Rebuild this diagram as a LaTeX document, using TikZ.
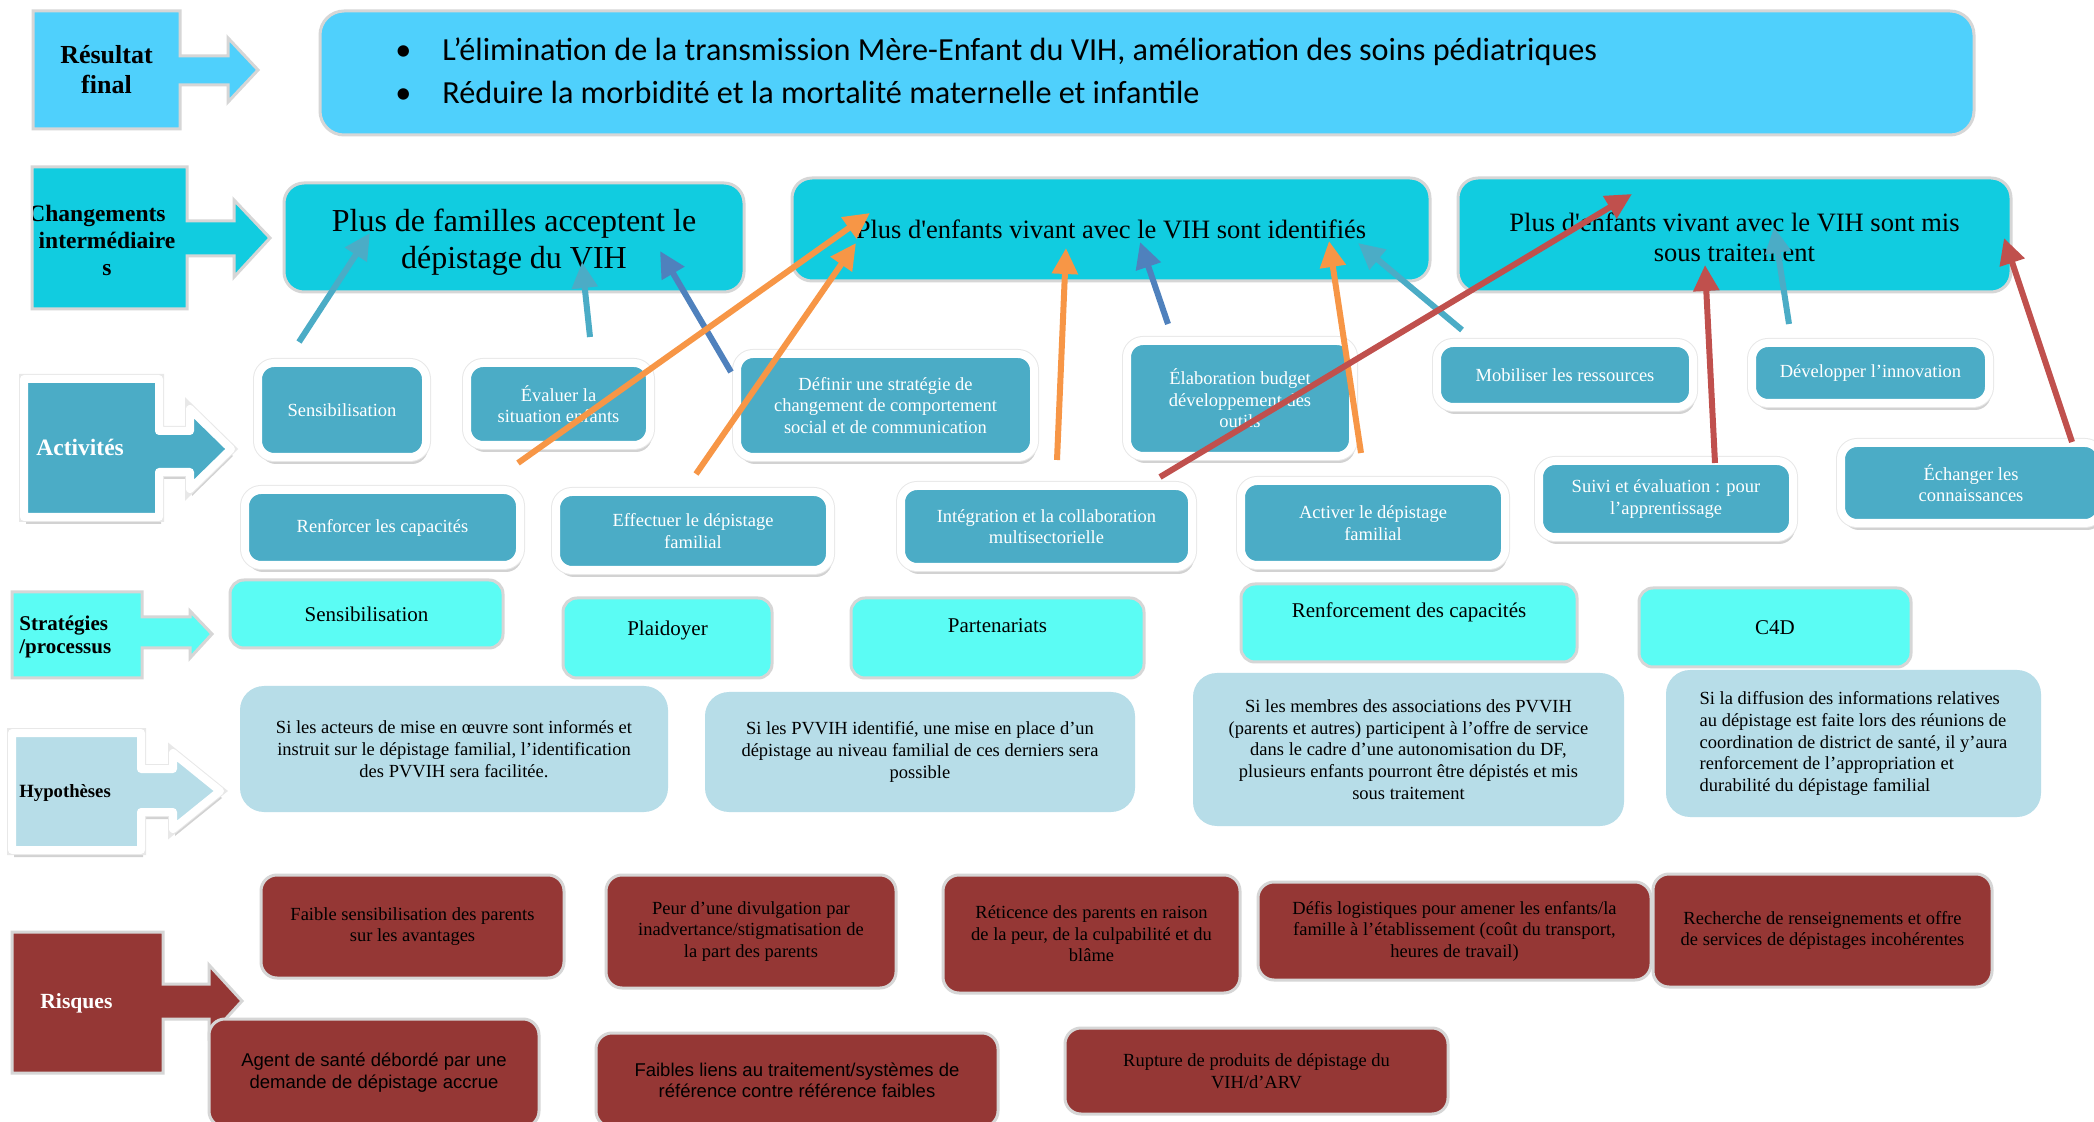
\documentclass[tikz,border=0pt]{standalone}
\usepackage{fontspec}
\setmainfont{Liberation Serif}
\newfontfamily\tnr{Liberation Serif}
\newfontfamily\calibri{Carlito}
\newfontfamily\arialf{Liberation Sans}
\usetikzlibrary{arrows.meta,shadows}
\definecolor{resblue}{HTML}{4FD0FC}
\definecolor{chgcyan}{HTML}{11CCE0}
\definecolor{actblue}{HTML}{4BACC6}
\definecolor{stratcyan}{HTML}{5BFCF4}
\definecolor{hypblue}{HTML}{B7DDE8}
\definecolor{riskred}{HTML}{953735}
\definecolor{bordergray}{HTML}{D6D6D6}
\definecolor{arteal}{HTML}{4BACC6}
\definecolor{arblue}{HTML}{4F81BD}
\definecolor{arorange}{HTML}{F79646}
\definecolor{arred}{HTML}{C0504D}
\newcommand{\fs}[2]{\fontsize{#1}{#2}\selectfont}
\newcommand{\bx}[7]{\node[#1, minimum width={(#5-#3)*0.5pt}, minimum height={(#6-#4)*0.5pt}] (#2) at ({(#3+#5)/2},{(#4+#6)/2}) {#7};}
\tikzset{
  lblshape/.style={fill=#1, draw=bordergray, line width=1.5pt, line join=miter},
  whiteshape/.style={fill=#1, draw=white, line width=4pt, line join=round,
    drop shadow={shadow xshift=1pt, shadow yshift=-3.5pt, opacity=0.25, fill=black!70},
    preaction={draw=black!9, line width=5pt}},
  lbltext/.style 2 args={font=\tnr\bfseries\fs{#1}{#2}, inner sep=0pt},
  topbox/.style={fill=resblue, draw=bordergray, line width=1.5pt, rounded corners=12pt, inner sep=0pt},
  chgbox/.style={fill=chgcyan, draw=bordergray, line width=1.5pt, rounded corners=10pt, align=center, inner sep=0pt},
  actbox/.style={whiteshape=actblue, rounded corners=8pt, text=white, align=center, inner sep=0pt, font=\tnr\fs{9.25pt}{10.75pt}},
  stratbox/.style={fill=stratcyan, draw=bordergray, line width=1.5pt, rounded corners=7pt, align=center, inner sep=0pt, font=\tnr\fs{10.5pt}{12pt}},
  hypbox/.style={fill=hypblue, rounded corners=12pt, align=center, inner sep=0pt, font=\tnr\fs{9.25pt}{10.85pt}},
  riskbox/.style={fill=riskred, draw=bordergray, line width=1.5pt, rounded corners=8pt, align=center, inner sep=0pt, font=\tnr\fs{9.25pt}{10.75pt}},
  conn/.style={draw=#1, line width=3pt, -{Triangle[length=13pt,width=12.5pt]}},
}
\begin{document}
\begin{tikzpicture}[x=0.5pt,y=-0.5pt,font=\tnr]
\useasboundingbox (0,0) rectangle (2094,1122);
\fill[white] (0,0) rectangle (2094,1122);

% ---------- row labels ----------
\draw[lblshape=resblue] (33,11) -- (180,11) -- (180,56) -- (228,56) -- (228,38) -- (258,70) -- (228,102) -- (228,85) -- (180,85) -- (180,129) -- (33,129) -- cycle;
\node[lbltext={13pt}{15pt}, align=center] (lRes) at (106.5,70) {Résultat\\final};

\draw[lblshape=chgcyan] (32,167) -- (187,167) -- (187,221) -- (234,221) -- (234,200) -- (270,238) -- (234,277) -- (234,256) -- (187,256) -- (187,309) -- (32,309) -- cycle;
\begin{scope}
\clip (33,168) rectangle (186,308);
\node[lbltext={11.75pt}{13.5pt}, align=center] (lChg) at (107,240) {\makebox[0pt]{Changements\kern10pt}\\intermédiaire\\s};
\end{scope}

\draw[whiteshape=actblue] (24,379) -- (159,379) -- (159,431) -- (190,431) -- (190,409) -- (231,449) -- (190,489) -- (190,472) -- (159,472) -- (159,517) -- (24,517) -- cycle;
\node[lbltext={11.75pt}{13.5pt}, text=white, anchor=base west] (lAct) at (36,456) {Activités};

\draw[lblshape=stratcyan] (12,592) -- (142,592) -- (142,617) -- (190,617) -- (190,611) -- (212,634) -- (190,658) -- (190,648) -- (142,648) -- (142,678) -- (12,678) -- cycle;
\node[lbltext={10.5pt}{11.5pt}, align=left, anchor=west] (lStr) at (19,637) {Stratégies\\/processus};

\draw[whiteshape=hypblue] (12,733) -- (141,733) -- (141,769) -- (173,769) -- (173,753) -- (220,791) -- (173,829) -- (173,812) -- (141,812) -- (141,850) -- (12,850) -- cycle;
\node[lbltext={9.35pt}{11pt}, anchor=base west] (lHyp) at (19,797) {Hypothèses};

\draw[lblshape=riskred] (12,932) -- (163,932) -- (163,984) -- (209,984) -- (209,965) -- (242,1001) -- (209,1037) -- (209,1019) -- (163,1019) -- (163,1073) -- (12,1073) -- cycle;
\node[lbltext={10.8pt}{12.5pt}, text=white, anchor=base west] (lRis) at (40,1008) {Risques};

% ---------- final result ----------
\bx{topbox}{tRes}{320}{11}{1974}{135}{}
\node[anchor=base west, inner sep=0pt, font=\calibri\fs{16.1pt}{18pt}] (tb1) at (395,61) {\makebox[23.5pt][l]{•}L’élimination de la transmission Mère-Enfant du VIH, amélioration des soins pédiatriques};
\node[anchor=base west, inner sep=0pt, font=\calibri\fs{16.1pt}{18pt}] (tb2) at (395,104) {\makebox[23.5pt][l]{•}Réduire la morbidité et la mortalité maternelle et infantile};

% ---------- intermediate changes ----------
\bx{chgbox, font=\tnr\fs{16pt}{18.5pt}}{cA}{284}{183}{744}{292}{\rule{0pt}{16pt}Plus de familles acceptent le\\dépistage du VIH}
\bx{chgbox, font=\tnr\fs{13.25pt}{15pt}}{cB}{792}{178}{1430}{281}{Plus d'enfants vivant avec le VIH sont identifiés}
\bx{chgbox, font=\tnr\fs{13.25pt}{15pt}}{cC}{1458}{178}{2011}{292}{\rule{0pt}{12pt}Plus d'enfants vivant avec le VIH sont mis\\sous traitement}

% ---------- activities ----------
\bx{actbox}{aSens}{258}{363}{426}{457}{Sensibilisation}
\bx{actbox}{aEval}{467}{363}{650}{445}{Évaluer la\\situation enfants}
\bx{actbox}{aDef}{737}{354}{1034}{457}{Définir une stratégie de\\changement de comportement\\social et de communication}
\bx{actbox}{aElab}{1127}{341}{1353}{456}{Élaboration budget\\développement des\\outils}
\bx{actbox}{aMob}{1437}{343}{1693}{407}{Mobiliser les ressources}
\bx{actbox}{aDev}{1752}{343}{1989}{403}{Développer l’innovation}
\bx{actbox}{aEch}{1841}{443}{2101}{523}{Échanger les\\connaissances}
\bx{actbox}{aSuivi}{1539}{461}{1793}{537}{Suivi et évaluation : pour\\l’apprentissage}
\bx{actbox}{aAct}{1241}{481}{1505}{565}{Activer le dépistage\\familial}
\bx{actbox}{aInt}{901}{486}{1192}{567}{Intégration et la collaboration\\multisectorielle}
\bx{actbox}{aEff}{556}{492}{830}{570}{Effectuer le dépistage\\familial}
\bx{actbox}{aRenf}{245}{490}{520}{565}{Renforcer les capacités}

% ---------- strategies ----------
\bx{stratbox}{sSens}{230}{580}{503}{648}{Sensibilisation}
\bx{stratbox}{sPla}{563}{598}{772}{678}{\raisebox{1pt}[0pt][0pt]{Plaidoyer}}
\bx{stratbox}{sPar}{851}{598}{1144}{678}{\raisebox{2.5pt}[0pt][0pt]{Partenariats}}
\bx{stratbox}{sRenf}{1241}{584}{1577}{662}{\raisebox{2.5pt}[0pt][0pt]{Renforcement des capacités}}
\bx{stratbox}{sC4D}{1639}{588}{1911}{667}{C4D}

% ---------- hypotheses ----------
\bx{hypbox}{h1}{240}{686}{668}{812}{Si les acteurs de mise en œuvre sont informés et\\instruit sur le dépistage familial, l’identification\\des PVVIH sera facilitée.}
\bx{hypbox}{h2}{705}{692}{1135}{812}{Si les PVVIH identifié, une mise en place d’un\\dépistage au niveau familial de ces derniers sera\\possible}
\bx{hypbox}{h3}{1193}{673}{1624}{826}{Si les membres des associations des PVVIH\\(parents et autres) participent à l’offre de service\\dans le cadre d’une autonomisation du DF,\\plusieurs enfants pourront être dépistés et mis\\sous traitement}
\bx{hypbox, align=left}{h4}{1666}{670}{2041}{817}{Si la diffusion des informations relatives\\au dépistage est faite lors des réunions de\\coordination de district de santé, il y’aura\\renforcement de l’appropriation et\\durabilité du dépistage familial}

% ---------- risks ----------
\bx{riskbox}{r1}{261}{875}{564}{978}{Faible sensibilisation des parents\\sur les avantages}
\bx{riskbox}{r2}{606}{875}{896}{988}{Peur d’une divulgation par\\inadvertance/stigmatisation de\\la part des parents}
\bx{riskbox}{r3}{943}{875}{1240}{993}{Réticence des parents en raison\\de la peur, de la culpabilité et du\\blâme}
\bx{riskbox}{r4}{1258}{882}{1651}{980}{Défis logistiques pour amener les enfants/la\\famille à l’établissement (coût du transport,\\heures de travail)}
\bx{riskbox}{r5}{1653}{874}{1992}{987}{Recherche de renseignements et offre\\de services de dépistages incohérentes}
\bx{riskbox, font=\arialf\fs{9.25pt}{11pt}}{r6}{209}{1019}{539}{1127}{Agent de santé débordé par une\\demande de dépistage accrue}
\bx{riskbox, font=\arialf\fs{9.25pt}{10.5pt}}{r7}{596}{1033}{998}{1127}{Faibles liens au traitement/systèmes de\\référence contre référence faibles}
\bx{riskbox}{r8}{1065}{1028}{1448}{1114}{Rupture de produits de dépistage du\\VIH/d’ARV}

% ---------- connectors ----------
\draw[conn=arteal] ([shift={(-43,-68)}]aSens.center) -- ([shift={(-144,-4.5)}]cA.center);
\draw[conn=arteal] ([shift={(31.5,-67)}]aEval.center) -- ([shift={(68,24.5)}]cA.center);
\draw[conn=arblue] ([shift={(-154.5,-33.5)}]aDef.center) -- ([shift={(146,13.5)}]cA.center);
\draw[conn=arorange] ([shift={(135.5,-64.5)}]aRenf.center) -- ([shift={(-241,-16.5)}]cB.center);
\draw[conn=arorange] ([shift={(3,-57)}]aEff.center) -- ([shift={(-255,13.5)}]cB.center);
\draw[conn=arorange] ([shift={(10.5,-66.5)}]aInt.center) -- ([shift={(-45,18.5)}]cB.center);
\draw[conn=arblue] ([shift={(-72,-74.5)}]aElab.center) -- ([shift={(29,12.5)}]cB.center);
\draw[conn=arorange] ([shift={(-12,-70)}]aAct.center) -- ([shift={(218,11.5)}]cB.center);
\draw[conn=arteal] ([shift={(-103,-45)}]aMob.center) -- ([shift={(247,13.5)}]cB.center);
\draw[conn=arteal] ([shift={(-81.5,-49)}]aDev.center) -- ([shift={(39.5,-8)}]cC.center);
\draw[conn=arred] ([shift={(113.5,-49.5)}]aInt.center) -- ([shift={(-102.5,-41)}]cC.center);
\draw[conn=arred] ([shift={(49,-36)}]aSuivi.center) -- ([shift={(-29.5,30)}]cC.center);
\draw[conn=arred] ([shift={(101,-41)}]aEch.center) -- ([shift={(269.5,3)}]cC.center);
\end{tikzpicture}
\end{document}
